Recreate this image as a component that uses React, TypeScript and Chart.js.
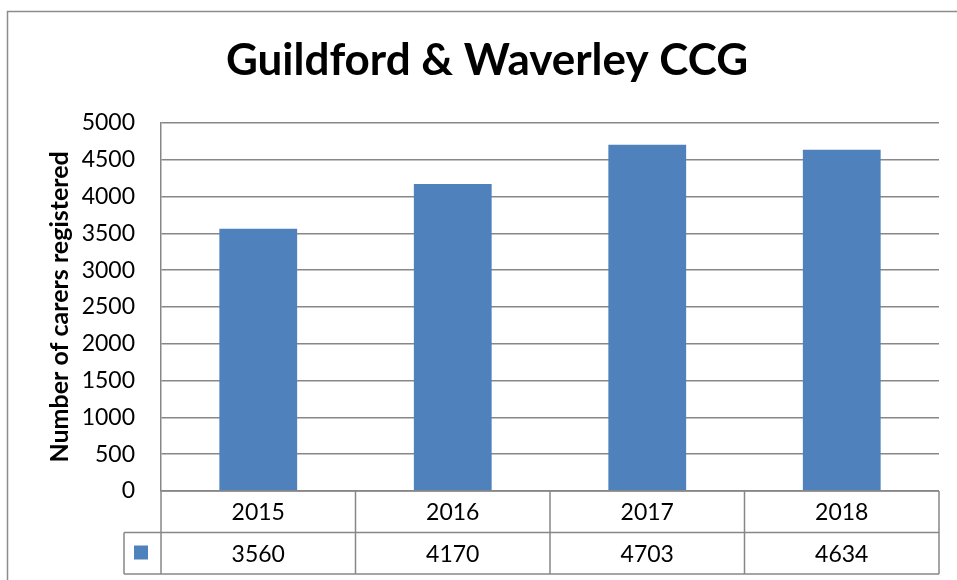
import React, { useEffect, useRef } from "react";
import { Chart, registerables } from "chart.js";

Chart.register(...registerables);

const chartTitle = "Guildford & Waverley CCG";
const yAxisTitle = "Number of carers registered";
const categories = ["2015", "2016", "2017", "2018"];
const carers = [3560, 4170, 4703, 4634];
const yMin = 0;
const yMax = 5000;
const yStep = 500;

const FONT = "Lato";
const BAR_COLOR = "#4F81BD";
const GRID_COLOR = "#878787";

const framePlugin = {
  id: "frame",
  beforeDraw(chart: any) {
    const { ctx, width, height } = chart;
    ctx.save();
    ctx.fillStyle = "#ffffff";
    ctx.fillRect(0, 0, width, height);
    ctx.strokeStyle = "#8c8c8c";
    ctx.lineWidth = 1.5;
    ctx.strokeRect(7.5, 11.5, width + 20, height + 20);
    ctx.restore();
  },
};

const tablePlugin = {
  id: "dataTable",
  afterDraw(chart: any) {
    const { ctx, chartArea, scales } = chart;
    const xs = scales.x;
    const n = categories.length;
    const colW = (chartArea.right - chartArea.left) / n;
    const top = chartArea.bottom;
    const rowH = 41.5;
    const keyW = 37;
    const left = chartArea.left;
    const right = chartArea.right;

    ctx.save();
    ctx.strokeStyle = GRID_COLOR;
    ctx.lineWidth = 1.5;
    const line = (x1: number, y1: number, x2: number, y2: number) => {
      ctx.beginPath();
      ctx.moveTo(x1, y1);
      ctx.lineTo(x2, y2);
      ctx.stroke();
    };
    line(left, top, right, top);
    line(left - keyW, top + rowH, right, top + rowH);
    line(left - keyW, top + 2 * rowH, right, top + 2 * rowH);
    for (let i = 0; i <= n; i++) {
      const xx = left + i * colW;
      line(xx, top, xx, top + 2 * rowH);
    }
    line(left - keyW, top + rowH, left - keyW, top + 2 * rowH);

    ctx.fillStyle = "#000000";
    ctx.font = `23px ${FONT}`;
    ctx.textAlign = "center";
    ctx.textBaseline = "middle";
    categories.forEach((c, i) => {
      const cx = xs.getPixelForValue(i);
      ctx.fillText(c, cx, top + rowH / 2 + 1);
      ctx.fillText(String(carers[i]), cx, top + rowH * 1.5 + 1);
    });

    ctx.fillStyle = BAR_COLOR;
    ctx.fillRect(left - keyW + 10, top + rowH + 13, 14, 14);
    ctx.restore();
  },
};

export default function App() {
  const ref = useRef<HTMLCanvasElement | null>(null);

  useEffect(() => {
    document.body.style.margin = "0";
    const canvas = ref.current;
    if (!canvas) return;
    const chart = new Chart(canvas, {
      type: "bar",
      data: {
        labels: categories,
        datasets: [
          {
            label: "Carers registered",
            data: carers,
            backgroundColor: BAR_COLOR,
            borderWidth: 0,
            barPercentage: 0.4,
            categoryPercentage: 1,
          },
        ],
      },
      options: {
        responsive: false,
        animation: false,
        devicePixelRatio: 1,
        layout: { padding: { left: 35, right: 18, top: 0, bottom: 89 } },
        plugins: {
          legend: { display: false },
          tooltip: { enabled: false },
          title: {
            display: true,
            text: chartTitle,
            color: "#000000",
            font: { family: FONT, size: 44, weight: "bold" },
            padding: { top: 34, bottom: 36 },
          },
        },
        scales: {
          x: {
            display: false,
            offset: true,
          },
          y: {
            min: yMin,
            max: yMax,
            afterFit(scale: any) {
              scale.width = 126;
            },
            ticks: {
              stepSize: yStep,
              padding: 26,
              color: "#000000",
              font: { family: FONT, size: 23 },
              callback: (v: any) => String(v),
            },
            grid: {
              color: GRID_COLOR,
              lineWidth: 1.5,
              drawTicks: false,
            },
            border: { display: true, color: GRID_COLOR, width: 1.5 },
            title: {
              display: true,
              text: yAxisTitle,
              color: "#000000",
              font: { family: FONT, size: 25, weight: "bold" },
              padding: { top: 10, bottom: 0 },
            },
          },
        },
      },
      plugins: [framePlugin, tablePlugin],
    });
    return () => chart.destroy();
  }, []);

  return (
    <div style={{ width: 957, height: 580 }}>
      <canvas ref={ref} width={957} height={580} style={{ display: "block" }} />
    </div>
  );
}
